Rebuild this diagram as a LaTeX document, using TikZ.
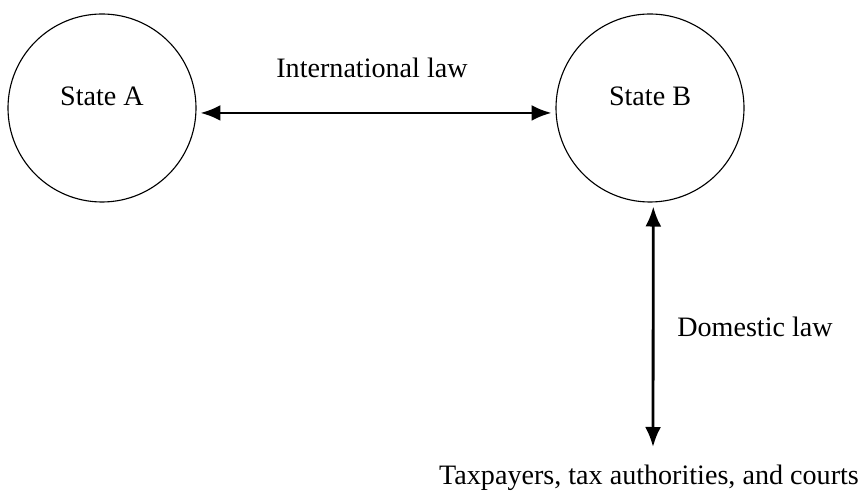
\documentclass[tikz,border=0pt]{standalone}
\usepackage{fontspec}
\setmainfont{Liberation Serif}
\usepackage{tikz}
\usetikzlibrary{arrows.meta,positioning}

\tikzset{
  state/.style={circle,draw,line width=0.8pt,minimum size=47mm,inner sep=0pt},
  lawtext/.style={inner sep=0pt,font=\fontsize{20}{24}\selectfont},
  lawarrow/.style={line width=2pt,{Latex[length=5mm,width=4mm]}-{Latex[length=5mm,width=4mm]},shorten <=1mm,shorten >=1mm}
}

\begin{document}
\begin{tikzpicture}[x=0.25mm,y=0.25mm]
  \useasboundingbox (0,0) rectangle (861,495);

  % the two states
  \node[state] (stA) at (102,387) {};
  \node[state] (stB) at (650,387) {};
  \node[lawtext,anchor=base] (nameA) at ([yshift=0.5mm]stA.center) {State A};
  \node[lawtext,anchor=base] (nameB) at ([yshift=0.5mm]stB.center) {State B};

  % relation between the states
  \draw[lawarrow] (stA.-3) -- (stB.183);
  \node[lawtext,anchor=base] (intl) at (372,417) {International law};

  % relation down to the people inside State B
  \coordinate (dst) at (653,48);
  \draw[lawarrow,shorten >=0mm] (stB.-88) -- (dst);
  \node[lawtext,anchor=base west] (dom) at (677,159) {Domestic law};
  \node[lawtext,anchor=base] (tax) at (649,11) {Taxpayers, tax authorities, and courts};
\end{tikzpicture}
\end{document}
